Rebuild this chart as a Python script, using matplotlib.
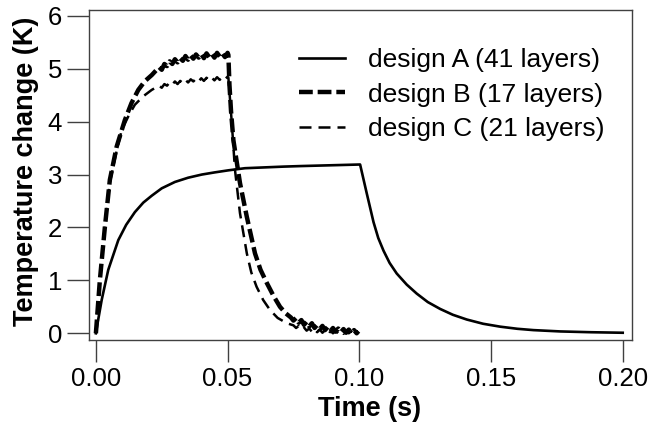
import matplotlib
matplotlib.use("Agg")
import matplotlib.pyplot as plt

plt.rcParams['font.family'] = ['Liberation Sans', 'DejaVu Sans']

# design A (41 layers): solid line
time_a = [0.0, 0.0005, 0.0022, 0.0047, 0.0085, 0.0115, 0.0148, 0.018, 0.0212, 0.025,
          0.030, 0.035, 0.0402, 0.045, 0.0503, 0.0566, 0.0712, 0.0775, 0.0927, 0.1003,
          0.1028, 0.1054, 0.1072, 0.1092, 0.1115, 0.1142, 0.118, 0.1218, 0.126, 0.1307,
          0.1355, 0.1408, 0.147, 0.1535, 0.160, 0.1661, 0.1763, 0.188, 0.200]
temp_a = [0.0, 0.15, 0.63, 1.20, 1.76, 2.05, 2.29, 2.47, 2.60, 2.74,
          2.86, 2.94, 3.00, 3.04, 3.08, 3.12, 3.15, 3.16, 3.18, 3.19,
          2.65, 2.10, 1.80, 1.56, 1.33, 1.13, 0.92, 0.75, 0.59, 0.46,
          0.35, 0.26, 0.18, 0.125, 0.085, 0.06, 0.035, 0.02, 0.01]

# design B (17 layers): thick dashed line
time_b = [0.0, 0.0015, 0.0034, 0.0053, 0.0079, 0.011, 0.0135, 0.0161, 0.0185, 0.0212,
          0.024, 0.025, 0.026, 0.027, 0.028, 0.029, 0.030, 0.031, 0.032, 0.033,
          0.034, 0.035, 0.036, 0.037, 0.038, 0.039, 0.040, 0.041, 0.042, 0.043,
          0.044, 0.045, 0.046, 0.047, 0.048, 0.049, 0.050, 0.0503,
          0.0507, 0.0513, 0.0522, 0.0547, 0.0573, 0.0604, 0.0625, 0.0649, 0.0675, 0.0699,
          0.072, 0.074, 0.075, 0.076, 0.077, 0.078, 0.079, 0.080, 0.081, 0.082,
          0.083, 0.084, 0.085, 0.086, 0.087, 0.088, 0.089, 0.090, 0.091, 0.092,
          0.093, 0.094, 0.095, 0.096, 0.097, 0.098, 0.099, 0.0997]
temp_b = [0.0, 1.00, 2.00, 2.90, 3.53, 4.03, 4.35, 4.60, 4.76, 4.88,
          5.03, 4.98, 5.09, 5.05, 5.14, 5.09, 5.18, 5.12, 5.20, 5.15,
          5.24, 5.17, 5.25, 5.19, 5.27, 5.21, 5.28, 5.20, 5.29, 5.22,
          5.28, 5.21, 5.30, 5.23, 5.29, 5.22, 5.30, 5.26,
          4.70, 4.20, 3.65, 2.84, 2.20, 1.51, 1.20, 0.95, 0.70, 0.50,
          0.38, 0.30, 0.24, 0.29, 0.20, 0.25, 0.16, 0.22, 0.13, 0.19,
          0.10, 0.16, 0.08, 0.14, 0.06, 0.12, 0.04, 0.10, 0.03, 0.09,
          0.02, 0.08, 0.01, 0.07, 0.01, 0.06, 0.00, 0.04]

# design C (21 layers): thin dashed line
time_c = [0.0, 0.0015, 0.0034, 0.0053, 0.0079, 0.0098, 0.0125, 0.0148, 0.018, 0.0212,
          0.024, 0.025, 0.026, 0.027, 0.028, 0.029, 0.030, 0.031, 0.032, 0.033,
          0.034, 0.035, 0.036, 0.037, 0.038, 0.039, 0.040, 0.041, 0.042, 0.043,
          0.044, 0.045, 0.046, 0.047, 0.048, 0.049, 0.050, 0.0503,
          0.0508, 0.0516, 0.0528, 0.0547, 0.0573, 0.059, 0.061, 0.0635, 0.0661, 0.069,
          0.0725, 0.075, 0.076, 0.077, 0.078, 0.079, 0.080, 0.081, 0.082, 0.083,
          0.084, 0.085, 0.086, 0.087, 0.088, 0.089, 0.090, 0.091, 0.092, 0.093,
          0.094, 0.095, 0.096, 0.097, 0.098, 0.099]
temp_c = [0.0, 1.00, 2.00, 2.85, 3.45, 3.84, 4.12, 4.32, 4.48, 4.60,
          4.68, 4.64, 4.71, 4.68, 4.74, 4.70, 4.76, 4.71, 4.77, 4.73,
          4.79, 4.74, 4.80, 4.76, 4.81, 4.76, 4.82, 4.77, 4.83, 4.78,
          4.83, 4.78, 4.84, 4.79, 4.84, 4.80, 4.85, 4.83,
          4.50, 3.97, 3.09, 2.27, 1.51, 1.15, 0.88, 0.63, 0.44, 0.29,
          0.19, 0.15, 0.10, 0.14, 0.07, 0.11, 0.05, 0.09, 0.03, 0.08,
          0.02, 0.07, 0.01, 0.06, 0.01, 0.05, 0.00, 0.05, 0.00, 0.04,
          -0.01, 0.04, 0.00, 0.04, -0.01, 0.03]

labels = ['design A (41 layers)', 'design B (17 layers)', 'design C (21 layers)']
x_ticks = [0.00, 0.05, 0.10, 0.15, 0.20]
x_tick_labels = ['0.00', '0.05', '0.10', '0.15', '0.20']
y_ticks = [0, 1, 2, 3, 4, 5, 6]

fig = plt.figure(figsize=(6.62, 4.22), dpi=100)
ax = fig.add_axes([0.1349, 0.1943, 0.8193, 0.782])

ax.plot(time_a, temp_a, color='black', lw=1.9, label=labels[0])
ax.plot(time_b, temp_b, color='black', lw=3.2, linestyle=(0, (3.1, 1.1)), label=labels[1])
ax.plot(time_c, temp_c, color='black', lw=1.8, linestyle=(0, (4.8, 2.8)), label=labels[2])

ax.set_xlim(-0.0025, 0.2034)
ax.set_ylim(-0.127, 6.11)
ax.set_xticks(x_ticks)
ax.set_xticklabels(x_tick_labels)
ax.set_yticks(y_ticks)

for s in ax.spines.values():
    s.set_linewidth(1.0)
    s.set_color('#404040')
ax.tick_params(direction='out', length=15.5, width=1.0, color='#404040',
               labelsize=18.5, top=False, right=False)
ax.tick_params(axis='y', pad=4)
ax.tick_params(axis='x', pad=4)

ax.set_xlabel('Time (s)', fontsize=19.5, fontweight='bold')
ax.set_ylabel('Temperature change (K)', fontsize=19.5, fontweight='bold')
ax.xaxis.set_label_coords(0.516, -0.17)
ax.yaxis.set_label_coords(-0.093, 0.51)

ax.legend(loc='upper left', bbox_to_anchor=(0.4521, 0.886), bbox_transform=fig.transFigure,
          frameon=False, fontsize=19, borderpad=0, borderaxespad=0,
          handlelength=1.73, handletextpad=0.88, labelspacing=0.40)

fig.savefig('out.png', dpi=100)
